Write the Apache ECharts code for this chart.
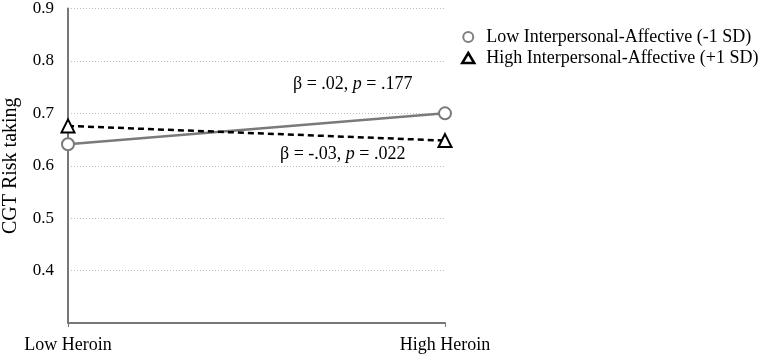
<!DOCTYPE html>
<html lang="en">
<head>
  <meta charset="UTF-8" />
  <title>CGT Risk taking</title>
  <script src="https://cdn.jsdelivr.net/npm/echarts@6/dist/echarts.min.js"></script>
  <style>
    body { margin: 0; background: #fff; }
    #chart { width: 765px; height: 356px; }
  </style>
</head>
<body>
  <div id="chart"></div>
  <script>
    const categories = ['Low Heroin', 'High Heroin'];
    const lowIA = [0.641, 0.700];
    const highIA = [0.676, 0.648];
    const seriesNames = ['Low Interpersonal-Affective (-1 SD)', 'High Interpersonal-Affective (+1 SD)'];

    const serif = '"Liberation Serif", "DejaVu Serif", serif';
    const chart = echarts.init(document.getElementById('chart'));

    chart.setOption({
      animation: false,
      textStyle: { fontFamily: serif },
      grid: { left: 68, right: 320, top: 6, bottom: 33 },
      legend: {
        orient: 'vertical',
        left: 456,
        top: 23,
        itemGap: 3,
        itemWidth: 12,
        itemHeight: 10,
        textStyle: { fontFamily: serif, fontSize: 18, color: '#000', padding: [0, 0, 0, 7] },
        data: [
          { name: seriesNames[0], icon: 'circle',
            itemStyle: { color: '#fff', borderColor: '#808080', borderWidth: 2 } },
          { name: seriesNames[1], icon: 'triangle',
            itemStyle: { color: '#fff', borderColor: '#000', borderWidth: 2.5 } }
        ]
      },
      xAxis: {
        type: 'category',
        data: categories,
        boundaryGap: false,
        axisLine: { lineStyle: { color: '#777', width: 2 } },
        axisTick: { length: 4, lineStyle: { color: '#777' } },
        axisLabel: { color: '#000', fontSize: 18, margin: 13 }
      },
      yAxis: {
        type: 'value',
        min: 0.3,
        max: 0.9,
        interval: 0.1,
        name: 'CGT Risk taking',
        nameLocation: 'middle',
        nameGap: 47,
        nameTextStyle: { fontFamily: serif, fontSize: 20, color: '#000' },
        axisLine: { show: true, lineStyle: { color: '#777', width: 2 } },
        axisTick: { show: false },
        axisLabel: {
          color: '#000', fontSize: 17, margin: 14,
          formatter: v => (Math.abs(v - 0.3) < 1e-6 ? '' : v.toFixed(1))
        },
        splitLine: { lineStyle: { color: '#bbb', type: [1, 2], width: 1 } }
      },
      series: [
        {
          name: seriesNames[0],
          type: 'line',
          data: lowIA,
          symbol: 'emptyCircle',
          symbolSize: 12,
          lineStyle: { color: '#7a7a7a', width: 2.5 },
          itemStyle: { color: '#7a7a7a', borderWidth: 2 }
        },
        {
          name: seriesNames[1],
          type: 'line',
          data: highIA,
          symbol: 'emptyTriangle',
          symbolSize: 13,
          lineStyle: { color: '#000', width: 2.5, type: [6, 4] },
          itemStyle: { color: '#000', borderWidth: 2.5 }
        }
      ],
      graphic: [
        {
          type: 'text', left: 293, top: 75,
          style: {
            text: 'β = .02, {i|p} = .177',
            font: '18px ' + serif, fill: '#000',
            rich: { i: { fontStyle: 'italic', fontSize: 18, fontFamily: serif } }
          }
        },
        {
          type: 'text', left: 280, top: 145,
          style: {
            text: 'β = -.03, {i|p} = .022',
            font: '18px ' + serif, fill: '#000',
            rich: { i: { fontStyle: 'italic', fontSize: 18, fontFamily: serif } }
          }
        }
      ]
    });
  </script>
</body>
</html>
